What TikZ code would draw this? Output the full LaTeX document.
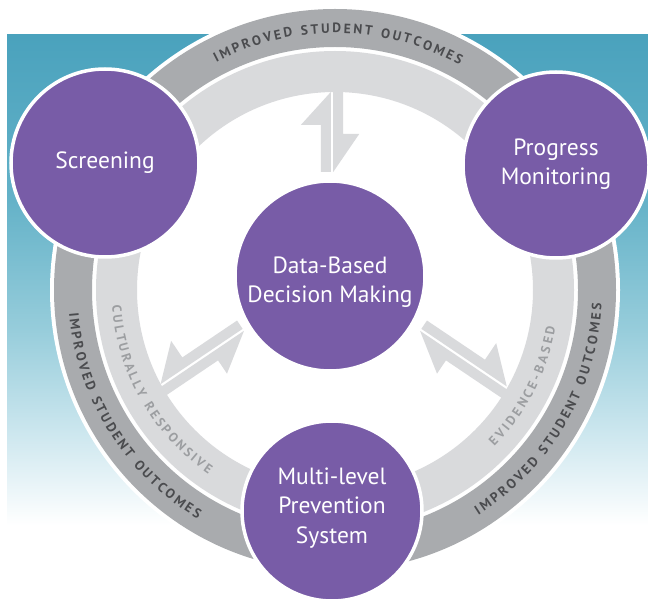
\documentclass[tikz,border=0pt]{standalone}
\usepackage{fontspec}
\setmainfont{PT Sans}
\usetikzlibrary{decorations.text}
\definecolor{purp}{HTML}{785CA7}
\definecolor{darkband}{HTML}{A9ABAE}
\definecolor{lightband}{HTML}{D9DADC}
\definecolor{darktxt}{HTML}{4A4B4E}
\definecolor{lighttxt}{HTML}{9C9EA1}
\definecolor{tealA}{HTML}{4AA2BD}
\definecolor{tealB}{HTML}{64B2C8}
\definecolor{tealC}{HTML}{97CDDB}
\definecolor{tealD}{HTML}{CBE6EE}
\tikzset{
  bubble/.style={circle, fill=purp, draw=white, line width=3.5pt, inner sep=0pt},
  bubbletext/.style={text=white, align=center, inner sep=0pt, font=\fontsize{23.5}{28.5}\selectfont},
  darkarc/.style={decorate, decoration={text along path, text align=fit to path,
    text color=darktxt, text={|\bfseries\fontsize{13.5}{13.5}\selectfont|#1}}},
  lightarc/.style={decorate, decoration={text along path, text align=fit to path,
    text color=lighttxt, text={|\bfseries\fontsize{13}{13}\selectfont|#1}}},
}
\newcommand\halfarrows[2]{%
  \fill[lightband] (#2,1.2) -- (#2-33,31.2) -- (#2-33,11.2) -- (#1,11.2) -- (#1,1.2) -- cycle;
  \fill[lightband] (#2+8,-1.2) -- (#2+8,-11.2) -- (#1+38,-11.2) -- (#1+38,-27.2) -- (#1,-1.2) -- cycle;
}
\begin{document}
\begin{tikzpicture}[x=1pt,y=1pt]
\clip (0,0) rectangle (648,598);
\useasboundingbox (0,0) rectangle (648,598);
% background
\fill[white] (0,0) rectangle (648,598);
\shade[top color=tealA, bottom color=tealB] (7,397.5) rectangle (648,563);
\shade[top color=tealB, bottom color=tealC] (7,267.5) rectangle (648,398);
\shade[top color=tealC, bottom color=tealD] (7,167.5) rectangle (648,268);
\shade[top color=tealD, bottom color=white] (7,73) rectangle (648,168);
% ring
\coordinate (O) at (335,308);
\fill[white] (O) circle[radius=285pt];
\fill[darkband, even odd rule] (O) circle[radius=281pt] (O) circle[radius=243pt];
\fill[lightband, even odd rule] (O) circle[radius=239pt] (O) circle[radius=198pt];
% ring texts
\path[darkarc={IMPROVED STUDENT OUTCOMES}] (O) ++(117.5:257pt) arc[start angle=117.5, end angle=61, radius=257pt];
\path[darkarc={IMPROVED STUDENT OUTCOMES}] (O) ++(185:267pt) arc[start angle=185, end angle=239, radius=267pt];
\path[darkarc={IMPROVED STUDENT OUTCOMES}] (O) ++(302.5:267pt) arc[start angle=302.5, end angle=357, radius=267pt];
\path[lightarc={CULTURALLY RESPONSIVE}] (O) ++(184:223.5pt) arc[start angle=184, end angle=235.5, radius=223.5pt];
\path[lightarc={EVIDENCE-BASED}] (O) ++(315.5:223.5pt) arc[start angle=315.5, end angle=350.5, radius=223.5pt];
% arrows
\begin{scope}[shift={(332,328)}, rotate=90] \halfarrows{98}{178} \end{scope}
\begin{scope}[shift={(332,328)}, rotate=326] \halfarrows{107}{210} \end{scope}
\begin{scope}[shift={(332,328)}, rotate=214, yscale=-1] \halfarrows{107}{206} \end{scope}
% circles
\node[bubble, minimum size=188pt] (screen) at (105,435) {};
\node[bubbletext] (screent) at (screen.center) {Screening};
\node[bubble, minimum size=186pt] (progress) at (556,433) {};
\node[bubbletext, yshift=1pt] (progresst) at (progress.center) {Progress\\Monitoring};
\node[bubble, minimum size=190pt] (dbdm) at (330,322) {};
\node[bubbletext, yshift=-6pt] (dbdmt) at (dbdm.center) {Data-Based\\Decision Making};
\node[bubble, minimum size=180pt] (mlps) at (332,87) {};
\node[bubbletext, font=\fontsize{23.5}{29.5}\selectfont, yshift=3pt] (mlpst) at (mlps.center) {Multi-level\\Prevention\\System};
\end{tikzpicture}
\end{document}
